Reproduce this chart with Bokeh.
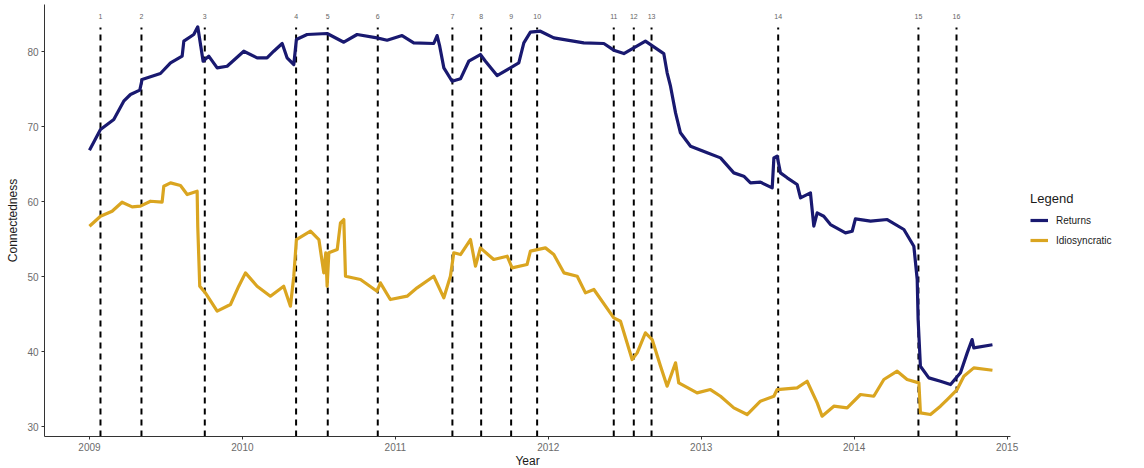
from bokeh.plotting import figure
from bokeh.models import FixedTicker, Legend, LegendItem, ColumnDataSource
from bokeh.core.properties import value
from bokeh.embed import file_html
from bokeh.resources import INLINE

# ---- data (decimal years) ----
returns_year = [2009.0, 2009.072, 2009.159, 2009.224, 2009.268, 2009.329, 2009.344, 2009.464, 2009.53,
                2009.606, 2009.617, 2009.682, 2009.708, 2009.721, 2009.743, 2009.78, 2009.835, 2009.9,
                2010.009, 2010.096, 2010.161, 2010.205, 2010.26, 2010.292, 2010.336, 2010.353, 2010.423,
                2010.554, 2010.663, 2010.75, 2010.88, 2010.946, 2011.044, 2011.12, 2011.251, 2011.273,
                2011.29, 2011.317, 2011.371, 2011.426, 2011.48, 2011.556, 2011.589, 2011.665, 2011.752,
                2011.807, 2011.84, 2011.883, 2011.948, 2012.036, 2012.232, 2012.363, 2012.428, 2012.494,
                2012.559, 2012.635, 2012.69, 2012.755, 2012.777, 2012.799, 2012.832, 2012.864, 2012.93,
                2013.039, 2013.126, 2013.213, 2013.278, 2013.322, 2013.387, 2013.464, 2013.475, 2013.496,
                2013.518, 2013.562, 2013.627, 2013.649, 2013.714, 2013.736, 2013.758, 2013.801, 2013.845,
                2013.943, 2013.987, 2014.008, 2014.107, 2014.216, 2014.325, 2014.39, 2014.412, 2014.418,
                2014.433, 2014.488, 2014.564, 2014.63, 2014.695, 2014.739, 2014.771, 2014.782, 2014.904]
returns_value = [66.85, 69.6, 70.93, 73.38, 74.27, 74.85, 76.27, 77.07, 78.49,
                 79.38, 81.38, 82.27, 83.29, 81.6, 78.71, 79.38, 77.82, 78.04,
                 80.04, 79.16, 79.16, 80.04, 81.07, 79.16, 78.27, 81.6, 82.27,
                 82.4, 81.24, 82.27, 81.82, 81.51, 82.13, 81.16, 81.07, 82.13,
                 80.71, 77.82, 76.04, 76.36, 78.71, 79.6, 78.71, 76.8, 77.82,
                 78.49, 81.16, 82.58, 82.71, 81.82, 81.16, 81.07, 80.18, 79.73,
                 80.49, 81.38, 80.62, 79.73, 77.16, 75.38, 71.82, 69.16, 67.38,
                 66.49, 65.82, 63.82, 63.38, 62.49, 62.58, 61.82, 65.82, 66.05,
                 63.82, 63.16, 62.27, 60.49, 61.16, 56.71, 58.49, 58.04, 56.93,
                 55.82, 56.04, 57.69, 57.38, 57.6, 56.27, 54.04, 49.6, 44.27,
                 38.04, 36.49, 36.04, 35.6, 37.16, 39.82, 41.6, 40.49, 40.9]

idio_year = [2009.0, 2009.072, 2009.148, 2009.213, 2009.279, 2009.333, 2009.399, 2009.475, 2009.486,
             2009.53, 2009.595, 2009.639, 2009.704, 2009.708, 2009.721, 2009.758, 2009.835, 2009.922,
             2009.976, 2010.02, 2010.096, 2010.183, 2010.27, 2010.314, 2010.336, 2010.353, 2010.445,
             2010.5, 2010.532, 2010.545, 2010.554, 2010.565, 2010.62, 2010.641, 2010.663, 2010.674,
             2010.772, 2010.88, 2010.902, 2010.967, 2011.077, 2011.142, 2011.251, 2011.317, 2011.36,
             2011.382, 2011.426, 2011.491, 2011.524, 2011.556, 2011.643, 2011.731, 2011.763, 2011.861,
             2011.883, 2011.981, 2012.036, 2012.102, 2012.189, 2012.243, 2012.298, 2012.428, 2012.472,
             2012.548, 2012.581, 2012.635, 2012.679, 2012.734, 2012.777, 2012.832, 2012.853, 2012.973,
             2013.06, 2013.126, 2013.213, 2013.3, 2013.387, 2013.475, 2013.496, 2013.627, 2013.692,
             2013.758, 2013.79, 2013.867, 2013.954, 2014.041, 2014.128, 2014.194, 2014.281, 2014.346,
             2014.423, 2014.433, 2014.499, 2014.564, 2014.608, 2014.673, 2014.717, 2014.782, 2014.904]
idio_value = [56.71, 58.04, 58.71, 59.91, 59.29, 59.38, 60.04, 59.91, 62.04,
              62.49, 62.13, 60.93, 61.38, 56.71, 48.71, 47.82, 45.38, 46.27,
              48.71, 50.49, 48.71, 47.38, 48.71, 46.04, 50.04, 54.93, 56.04,
              54.93, 50.49, 53.16, 48.71, 53.16, 53.6, 57.16, 57.6, 50.04,
              49.6, 48.04, 49.16, 46.93, 47.38, 48.49, 50.04, 47.16, 50.04,
              53.16, 52.93, 54.93, 51.38, 53.82, 52.27, 52.71, 51.16, 51.6,
              53.38, 53.82, 52.93, 50.49, 50.04, 47.82, 48.27, 44.49, 44.04,
              38.93, 39.82, 42.49, 41.6, 38.04, 35.38, 38.49, 35.82, 34.49,
              34.93, 34.04, 32.49, 31.6, 33.38, 34.04, 34.93, 35.16, 36.04,
              33.16, 31.38, 32.71, 32.49, 34.27, 34.04, 36.27, 37.38, 36.27,
              35.82, 31.82, 31.6, 32.71, 33.6, 34.93, 36.71, 37.82, 37.5]

event_year = [2009.072, 2009.34, 2009.754, 2010.351, 2010.558, 2010.885, 2011.373, 2011.561,
              2011.757, 2011.927, 2012.428, 2012.559, 2012.675, 2013.503, 2014.42, 2014.669]
event_label = [str(i) for i in range(1, 17)]

year_ticks = [2009, 2010, 2011, 2012, 2013, 2014, 2015]
value_ticks = [30, 40, 50, 60, 70, 80]

FONT = "Liberation Sans"
NAVY = "#191970"
GOLD = "#DAA520"

p = figure(frame_width=966, frame_height=432, output_backend="svg", toolbar_location=None,
           x_range=(2008.706, 2015.022), y_range=(28.67, 86.27),
           min_border_left=44, min_border_top=4, min_border_bottom=28, min_border_right=0)
p.background_fill_color = "white"
p.border_fill_color = "white"
p.outline_line_color = None
p.xgrid.visible = False
p.ygrid.visible = False

# event lines
ev = ColumnDataSource(dict(x=event_year, y0=[28.67] * len(event_year), y1=[83.2] * len(event_year),
                           ty=[84.7] * len(event_year), lab=event_label))
p.segment(x0="x", y0="y0", x1="x", y1="y1", source=ev, line_color="black", line_width=2,
          line_dash="6 5")
p.text(x="x", y="ty", text="lab", source=ev, text_align="center", text_baseline="middle",
       text_font=value(FONT), text_font_size="7px", text_color="#666666")

r1 = p.line(returns_year, returns_value, line_color=NAVY, line_width=3.2, line_join="round")
r2 = p.line(idio_year, idio_value, line_color=GOLD, line_width=3.2, line_join="round")

legend = Legend(items=[LegendItem(label="Returns", renderers=[r1]),
                       LegendItem(label="Idiosyncratic", renderers=[r2])],
                title="Legend", location="center_left")
legend.title_text_font = FONT
legend.title_text_font_size = "13px"
legend.title_text_font_style = "normal"
legend.title_text_color = "#1a1a1a"
legend.label_text_font = FONT
legend.label_text_font_size = "10px"
legend.label_text_color = "#1a1a1a"
legend.glyph_width = 18
legend.glyph_height = 18
legend.label_standoff = 8
legend.spacing = 2
legend.padding = 8
legend.margin = 20
legend.border_line_color = None
legend.background_fill_alpha = 0
p.add_layout(legend, "right")

for ax in (p.xaxis, p.yaxis):
    ax.axis_line_color = "#333333"
    ax.axis_line_width = 1
    ax.major_tick_line_color = "#333333"
    ax.major_tick_out = 3
    ax.major_tick_in = 0
    ax.minor_tick_line_color = None
    ax.major_label_text_font = FONT
    ax.major_label_text_font_size = "10px"
    ax.major_label_text_color = "#6b6b6b"
    ax.axis_label_text_font = FONT
    ax.axis_label_text_font_size = "12px"
    ax.axis_label_text_font_style = "normal"
    ax.axis_label_text_color = "#1a1a1a"

p.xaxis.ticker = FixedTicker(ticks=year_ticks)
p.yaxis.ticker = FixedTicker(ticks=value_ticks)
p.xaxis.axis_label = "Year"
p.yaxis.axis_label = "Connectedness"
p.xaxis.major_label_standoff = 3
p.xaxis.axis_label_standoff = 0
p.yaxis.major_label_standoff = 3
p.yaxis.axis_label_standoff = 4

open("out.html", "w").write(file_html(p, INLINE))
